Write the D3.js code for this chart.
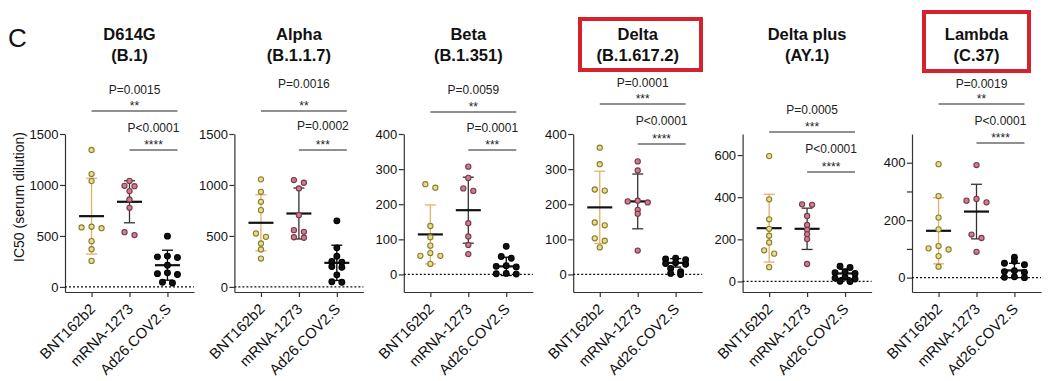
<!DOCTYPE html>
<html><head><meta charset="utf-8">
<script src="https://cdn.jsdelivr.net/npm/d3@7"></script>
<style>
body{margin:0;background:#fff}
svg{display:block}
text{font-family:"Liberation Sans",Arial,Helvetica,sans-serif}
</style>
</head><body>
<svg id="chart" width="1056" height="381"></svg>
<script>
// ---------------- data ----------------
const variants = ["D614G","Alpha","Beta","Delta","Delta plus","Lambda"];
const lineages = ["(B.1)","(B.1.1.7)","(B.1.351)","(B.1.617.2)","(AY.1)","(C.37)"];
const highlighted = ["Delta","Lambda"];
const vaccines = ["BNT162b2","mRNA-1273","Ad26.COV2.S"];
const yAxisTitle = "IC50 (serum dilution)";
const panelLetter = "C";

const yMaxes = [1500,1500,400,400,700,500];
const yTickValues = [
  [0,500,1000,1500],[0,500,1000,1500],[0,100,200,300,400],
  [0,100,200,300,400],[0,200,400,600],[0,100,200,300,400]
];
const yTickLabels = [
  ["0","500","1000","1500"],["0","500","1000","1500"],["0","100","200","300","400"],
  ["0","100","200","300","400"],["0","200","400","600"],["0","","200","","400"]
];

const bnt162b2 = [
  [1343,1107,1038,590,583,576,449,370,255],
  [1055,933,835,753,524,491,426,367,278],
  [257,247,138,106,82,61,53,53,30],
  [361,314,242,239,148,140,103,96,77],
  [595,390,295,250,217,185,148,132,68],
  [395,284,209,168,110,102,98,75,38]
];
const mrna1273 = [
  [1040,992,988,940,858,776,537,508],
  [1048,1022,966,704,557,540,487,482],
  [307,275,245,238,146,108,84,58],
  [322,296,210,208,205,184,173,68],
  [366,364,311,268,245,224,201,83],
  [392,274,268,262,150,138,90]
];
const ad26cov2s = [
  [498,302,295,288,212,138,130,122,45,38],
  [648,383,300,250,242,200,192,118,50,45],
  [80,51,46,25,23,21,3,2,1],
  [46,44,42,33,31,29,17,8,3,0],
  [72,66,46,42,38,20,16,12,1,0],
  [71,57,50,45,24,21,18,3,1,0]
];
const groupMeans = [[694,835,213],[629,720,236],[114,183,23],[191,208,33],[253,250,38],[163,230,25]];
const groupSDs   = [[372,206,147],[275,250,173],[84,94,26],[103,78,12],[161,98,20],[115,95,25]];

const pTop = ["P=0.0015","P=0.0016","P=0.0059","P=0.0001","P=0.0005","P=0.0019"];
const starsTop = ["**","**","**","***","***","**"];
const pBottom = ["P<0.0001","P=0.0002","P=0.0001","P<0.0001","P<0.0001","P<0.0001"];
const starsBottom = ["****","***","***","****","****","****"];

// ---------------- layout / style ----------------
const L = {
  panelX0: 65, panelStep: 169.4, axisW: 129,
  yTop: 134, yBottom: 292, yMin: -50,
  topLineY: [111,111,112,104,132,104],
  botLineY: [150,150,150,144,172,143],
  topTextGap: [17,23,18,17,18,16],
  botTextGap: [18,20,18,19,19,18],
  titleCx: 64.5,
  boxes: {"Delta":{x:578,y:17,w:125,h:55},"Lambda":{x:922,y:10,w:109,h:63}}
};
const fills = ["#e7dd93","#c97f90","#111111"];
const strokes = ["#8c7c2c","#7a3848","#000000"];
const errColors = ["#e3b06a","#333333","#000000"];

const svg = d3.select("#chart");
svg.append("rect").attr("width",1056).attr("height",381).attr("fill","#fff");

svg.append("text").attr("x",8).attr("y",47).attr("font-size",26).attr("fill","#111").text(panelLetter);
svg.append("text").attr("transform","translate(24,197) rotate(-90)")
  .attr("text-anchor","middle").attr("font-size",14).attr("fill","#111").text(yAxisTitle);

function swarm(vals, y, thresh, step){
  const pts = vals.map(v=>({v, py:y(v)})).sort((a,b)=>a.py-b.py);
  const rows=[]; let cur=null;
  for(const p of pts){
    if(cur && p.py-cur[0].py < thresh) cur.push(p); else {cur=[p]; rows.push(cur);}
  }
  rows.forEach(r=>{
    const n=r.length;
    r.forEach((p,k)=>{
      if(n%2){ const m=Math.ceil(k/2); p.dx = k===0?0:(k%2?-m:m)*step; }
      else { const m=Math.floor(k/2)+0.5; p.dx=(k%2?m:-m)*step; }
    });
  });
  return pts;
}

variants.forEach((vname,i)=>{
  const x0 = L.panelX0 + i*L.panelStep;
  const g = svg.append("g").attr("transform",`translate(${x0},0)`);
  const x = d3.scalePoint().domain(vaccines).range([0,L.axisW]).padding(0.7);
  const y = d3.scaleLinear().domain([L.yMin,yMaxes[i]]).range([L.yBottom,L.yTop]);

  // title
  if(highlighted.includes(vname)){
    const b=L.boxes[vname];
    svg.append("rect").attr("x",b.x+2).attr("y",b.y+2).attr("width",b.w-4).attr("height",b.h-4)
      .attr("fill","none").attr("stroke","#d6222c").attr("stroke-width",4);
  }
  const t = g.append("text").attr("text-anchor","middle").attr("font-weight","bold")
    .attr("font-size",16.5).attr("fill","#111");
  t.append("tspan").attr("x",L.titleCx).attr("y",40).text(vname);
  t.append("tspan").attr("x",L.titleCx).attr("y",61).text(lineages[i]);

  // axes
  const ya = g.append("g").call(d3.axisLeft(y).tickValues(yTickValues[i])
    .tickFormat((d,j)=>yTickLabels[i][j]).tickSize(5).tickSizeOuter(0).tickPadding(1.5));
  ya.select(".domain").attr("stroke","#333").attr("stroke-width",1.2);
  ya.selectAll(".tick line").attr("stroke","#333").attr("stroke-width",1.2);
  ya.selectAll(".tick text").attr("font-size",13).attr("fill","#111")
    .style("font-family",'"Liberation Sans",Arial,sans-serif');

  const xa = g.append("g").attr("transform",`translate(0,${L.yBottom})`)
    .call(d3.axisBottom(x).tickSize(5).tickSizeOuter(0));
  xa.select(".domain").attr("stroke","#333").attr("stroke-width",1.2);
  xa.selectAll(".tick line").attr("stroke","#333").attr("stroke-width",1.2);
  xa.selectAll(".tick text").attr("y",0).attr("dy",null).attr("x",0)
    .attr("transform","translate(4,18) rotate(-45)").attr("text-anchor","end")
    .attr("font-size",14.8).attr("fill","#111")
    .style("font-family",'"Liberation Sans",Arial,sans-serif');

  // zero line
  g.append("line").attr("x1",0).attr("x2",L.axisW).attr("y1",y(0)).attr("y2",y(0))
    .attr("stroke","#111").attr("stroke-width",1.3).attr("stroke-dasharray","2,2");

  const groups=[bnt162b2[i],mrna1273[i],ad26cov2s[i]];
  groups.forEach((vals,k)=>{
    const cx=x(vaccines[k]);
    const m=groupMeans[i][k], s=groupSDs[i][k];
    g.append("line").attr("x1",cx).attr("x2",cx).attr("y1",y(m+s)).attr("y2",y(m-s))
      .attr("stroke",errColors[k]).attr("stroke-width",1.3);
    [m+s,m-s].forEach(v=>{
      g.append("line").attr("x1",cx-5.5).attr("x2",cx+5.5).attr("y1",y(v)).attr("y2",y(v))
        .attr("stroke",errColors[k]).attr("stroke-width",1.3);
    });
    g.append("line").attr("x1",cx-12.5).attr("x2",cx+12.5).attr("y1",y(m)).attr("y2",y(m))
      .attr("stroke","#111").attr("stroke-width",2.2);
    const pts=swarm(vals,y,3.8,10);
    g.selectAll(null).data(pts).enter().append("circle")
      .attr("cx",d=>cx+d.dx).attr("cy",d=>d.py).attr("r",k===2?2.9:2.6)
      .attr("fill",fills[k]).attr("stroke",strokes[k]).attr("stroke-width",1.1);
  });

  // significance brackets
  const xEnd = x(vaccines[2])+10;
  const brackets=[
    {x1:x(vaccines[0]),ly:L.topLineY[i],gap:L.topTextGap[i],p:pTop[i],s:starsTop[i]},
    {x1:x(vaccines[1]),ly:L.botLineY[i],gap:L.botTextGap[i],p:pBottom[i],s:starsBottom[i]}
  ];
  brackets.forEach(b=>{
    g.append("line").attr("x1",b.x1).attr("x2",xEnd).attr("y1",b.ly).attr("y2",b.ly)
      .attr("stroke","#222").attr("stroke-width",1.2);
    const cx=(b.x1+xEnd)/2;
    g.append("text").attr("x",cx).attr("y",b.ly-b.gap).attr("text-anchor","middle")
      .attr("font-size",12).attr("fill","#222").text(b.p);
    g.append("text").attr("x",cx).attr("y",b.ly-1).attr("text-anchor","middle")
      .attr("font-size",12).attr("fill","#222").text(b.s);
  });
});
</script>
</body></html>
